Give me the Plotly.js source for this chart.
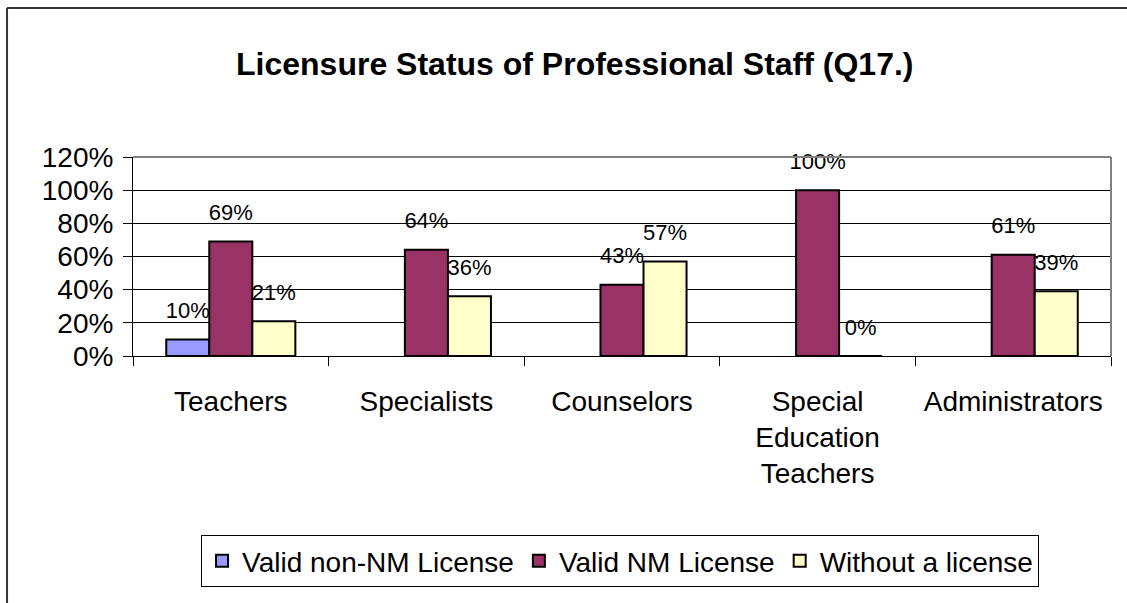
<!DOCTYPE html>
<html>
<head>
<meta charset="utf-8">
<script src="https://cdn.plot.ly/plotly-3.0.1.min.js"></script>
<style>
  html, body { margin: 0; padding: 0; background: #fff; }
  #chart { width: 1127px; height: 603px; }
</style>
</head>
<body>
<div id="chart"></div>
<script>
// Licensure status
const categories = ['Teachers', 'Specialists', 'Counselors', 'Special<br>Education<br>Teachers', 'Administrators'];
const seriesNames = ['Valid non-NM License', 'Valid NM License', 'Without a license'];
const validNonNM = [0.10, null, null, null, null];
const validNM = [0.69, 0.64, 0.43, 1.00, 0.61];
const withoutLicense = [0.21, 0.36, 0.57, 0.00, 0.39];
const yTicks = [0, 0.2, 0.4, 0.6, 0.8, 1.0, 1.2];

const seriesValues = [validNonNM, validNM, withoutLicense];
const seriesColors = ['#9999FF', '#993366', '#FFFFCC'];
const FONT = 'Liberation Sans, Arial, sans-serif';

const traces = [];
// bars
seriesValues.forEach((vals, i) => {
    traces.push({
        type: 'bar',
        name: seriesNames[i],
        x: categories,
        y: vals,
        marker: { color: seriesColors[i], line: { color: '#000', width: 2 } },
        hoverinfo: 'skip'
    });
});
// data labels, grouped the same way as the bars
seriesValues.forEach((vals, i) => {
    traces.push({
        type: 'scatter',
        mode: 'markers+text',
        x: categories,
        y: vals,
        marker: { size: 24, opacity: 0 },
        texttemplate: '%{y:.0%}',
        textposition: 'top center',
        textfont: { family: FONT, size: 22, color: '#000' },
        cliponaxis: false,
        showlegend: false,
        hoverinfo: 'skip'
    });
});

const layout = {
    width: 1127,
    height: 603,
    margin: { l: 133, r: 16, t: 157, b: 247 },
    paper_bgcolor: '#fff',
    plot_bgcolor: '#fff',
    font: { family: FONT, color: '#000' },
    barmode: 'group',
    bargap: 0.34,
    bargroupgap: 0,
    scattermode: 'group',
    scattergap: 0.34,
    showlegend: true,
    title: {
        text: 'Licensure Status of Professional Staff (Q17.)',
        font: { family: FONT, size: 32, weight: 'bold', color: '#000' },
        xref: 'container', x: 0.51, xanchor: 'center',
        yref: 'container', y: 0.895, yanchor: 'middle'
    },
    xaxis: {
        type: 'category',
        showline: true, linecolor: '#000', linewidth: 1,
        ticks: 'outside', tickson: 'boundaries', ticklen: 9, tickcolor: '#000', tickwidth: 1,
        ticklabelstandoff: 20,
        tickfont: { family: FONT, size: 28, color: '#000' },
        showgrid: false, zeroline: false, fixedrange: true
    },
    yaxis: {
        range: [0, 1.2],
        tickvals: yTicks,
        tickformat: '.0%',
        showline: true, linecolor: '#000', linewidth: 1,
        ticks: 'outside', ticklen: 9, tickcolor: '#000', tickwidth: 1,
        ticklabelstandoff: 4,
        tickfont: { family: FONT, size: 28, color: '#000' },
        showgrid: true, gridcolor: '#000', gridwidth: 1,
        zeroline: false, fixedrange: true
    },
    legend: {
        orientation: 'h',
        x: 0.498, xanchor: 'center',
        y: -0.9, yanchor: 'top',
        bordercolor: '#000', borderwidth: 1,
        bgcolor: '#fff',
        font: { family: FONT, size: 28, color: '#000' },
        itemclick: false, itemdoubleclick: false
    },
    shapes: [
        // plot area frame, top and right (gray)
        { type: 'line', xref: 'x domain', yref: 'y domain', x0: 0, x1: 1, y0: 1, y1: 1, line: { color: '#808080', width: 2 } },
        { type: 'line', xref: 'x domain', yref: 'y domain', x0: 1, x1: 1, y0: 0, y1: 1, line: { color: '#808080', width: 2 } },
        // outer chart frame, left and top
        { type: 'line', xref: 'paper', yref: 'paper', x0: -0.1288, x1: -0.1288, y0: -1.25, y1: 1.7487, line: { color: '#333', width: 2 } },
        { type: 'line', xref: 'paper', yref: 'paper', x0: -0.1288, x1: 1.02, y0: 1.7487, y1: 1.7487, line: { color: '#333', width: 2 } }
    ]
};

Plotly.newPlot('chart', traces, layout, { staticPlot: true, displayModeBar: false });
</script>
</body>
</html>
